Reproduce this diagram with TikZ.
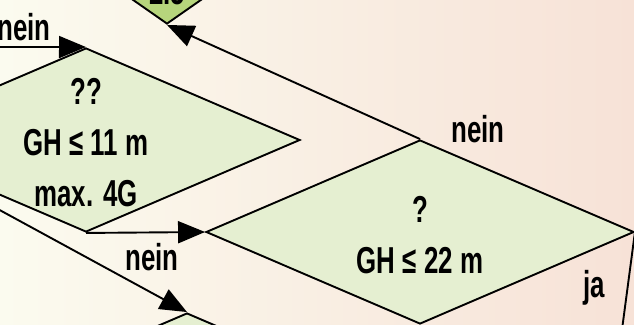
\documentclass[tikz,border=0pt]{standalone}
\usepackage{fontspec}
\setmainfont[FakeStretch=0.69]{Liberation Sans}
\usetikzlibrary{positioning,arrows.meta,shapes.geometric}
\definecolor{hellgruen}{HTML}{E5EFD1}
\definecolor{gruen}{HTML}{B6D57C}
\definecolor{creme}{HTML}{FBFBEF}
\definecolor{rosa}{HTML}{F7E2D7}

\begin{document}
\begin{tikzpicture}[x=1pt, y=-1pt,
      font=\fontsize{37.5}{51}\selectfont\bfseries,
      r/.style={diamond, draw, fill=hellgruen, line width=1.9pt, inner sep=0pt,
                minimum width=428pt, minimum height=184pt},
      txt/.style={label={[align=center, inner sep=0pt, yshift=-3pt]center:#1}},
      f/.style={-{Triangle[length=27pt,width=22pt]}, line width=1.9pt},
      lbl/.style={inner sep=0pt, anchor=base}]

    % --- Hintergrund -----------------------------------------------------
    \clip (0,0) rectangle (634,324);
    \shade[left color=creme, middle color=white!60!creme, right color=rosa]
      (0,0) rectangle (634,324);

    % --- Rauten ----------------------------------------------------------
    \node[diamond, draw, fill=gruen, line width=1.9pt, inner sep=0pt,
          minimum width=120pt, minimum height=84pt] (z) at (167,-18) {};
    \node[lbl] (zt) at (167,5) {2.5};
    \node[r, txt={??\\GH ≤ 11 m\\max. 4G}] (d2) at (86,140) {};
    \node[r, txt={?\\GH ≤ 22 m}] (d1) at (420,232) {};
    \node[r] (d3) at (187,405) {};

    % --- Pfeile ----------------------------------------------------------
    \coordinate (ein) at (-30,47);
    \coordinate (aus) at (610,420);
    \draw[f] (ein) -- (d2.north);
    \draw[f] (d1.north) -- (z.south);
    \draw[f] (d2.south) -- (d1.west);
    \draw[f] (d2.west) -- (d3.north);
    \draw[f] (d1.east) -- (aus);

    \node[lbl] (n1) at (24,40) {nein};
    \node[lbl] (n2) at (478,142) {nein};
    \node[lbl] (n3) at (152,270) {nein};
    \node[lbl] (n4) at (594,297) {ja};
  \end{tikzpicture}
\end{document}
